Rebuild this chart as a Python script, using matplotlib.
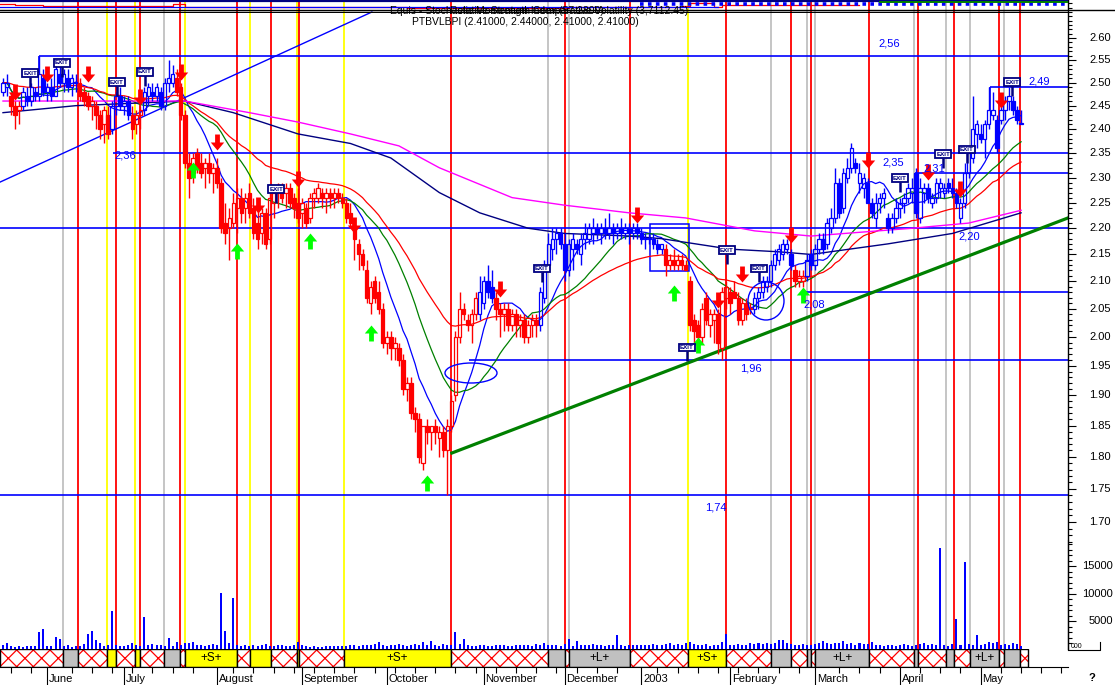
import numpy as np
import pandas as pd
import matplotlib
matplotlib.use("Agg")
import matplotlib.pyplot as plt
from matplotlib.patches import Rectangle, Ellipse
from matplotlib.path import Path
from matplotlib.ticker import FixedLocator, NullFormatter
import matplotlib.transforms as mtransforms

plt.rcParams['font.family'] = ['Liberation Sans', 'DejaVu Sans']
plt.rcParams['hatch.linewidth'] = 0.9
plt.rcParams['hatch.color'] = '#ff0000'

# ------------------------------------------------------------------ data
open_ = [2.48,2.49,2.47,2.45,2.44,2.45,2.47,2.46,2.48,2.47,
         2.51,2.48,2.49,2.47,2.52,2.50,2.51,2.49,2.50,2.50,
         2.48,2.47,2.45,2.45,2.43,2.41,2.43,2.40,2.45,2.47,
         2.45,2.46,2.43,2.41,2.43,2.44,2.47,2.48,2.47,2.48,
         2.45,2.50,2.50,2.51,2.49,2.43,2.33,2.31,2.35,2.33,
         2.32,2.33,2.31,2.32,2.29,2.21,2.20,2.21,2.24,2.26,
         2.24,2.27,2.24,2.21,2.19,2.23,2.18,2.25,2.27,2.28,
         2.27,2.28,2.26,2.25,2.23,2.24,2.22,2.26,2.26,2.27,
         2.26,2.27,2.26,2.27,2.26,2.25,2.23,2.20,2.17,2.15,
         2.12,2.06,2.10,2.08,2.05,1.99,2.00,1.98,1.98,1.96,
         1.91,1.92,1.87,1.86,1.79,1.85,1.84,1.85,1.83,1.84,
         1.81,1.85,1.90,2.00,2.05,2.03,2.02,2.04,2.04,2.06,
         2.10,2.09,2.07,2.05,2.04,2.05,2.02,2.04,2.02,2.03,
         2.00,2.02,2.03,2.02,2.07,2.13,2.16,2.18,2.19,2.17,
         2.12,2.16,2.17,2.15,2.18,2.18,2.19,2.20,2.19,2.20,
         2.19,2.20,2.19,2.20,2.19,2.20,2.19,2.20,2.19,2.18,
         2.18,2.18,2.17,2.16,2.16,2.13,2.14,2.13,2.14,2.13,
         2.10,2.03,2.02,2.00,2.07,2.02,2.03,2.04,1.98,2.07,
         2.08,2.08,2.07,2.03,2.06,2.05,2.05,2.07,2.08,2.09,
         2.10,2.13,2.14,2.15,2.16,2.15,2.12,2.10,2.10,2.11,
         2.15,2.13,2.16,2.18,2.17,2.20,2.22,2.29,2.24,2.30,
         2.32,2.33,2.29,2.28,2.29,2.25,2.22,2.25,2.26,2.22,
         2.20,2.22,2.24,2.25,2.26,2.27,2.31,2.22,2.27,2.28,
         2.25,2.26,2.28,2.27,2.29,2.28,2.27,2.22,2.25,2.31,
         2.34,2.39,2.39,2.38,2.41,2.43,2.42,2.42,2.44,2.46,
         2.46,2.44,2.41]
high_ = [2.51,2.52,2.48,2.46,2.46,2.49,2.49,2.50,2.49,2.56,
         2.53,2.50,2.51,2.54,2.55,2.53,2.53,2.52,2.52,2.51,
         2.49,2.48,2.47,2.46,2.44,2.45,2.45,2.46,2.48,2.49,
         2.47,2.47,2.45,2.44,2.45,2.49,2.50,2.50,2.50,2.49,
         2.51,2.55,2.54,2.53,2.50,2.44,2.35,2.35,2.36,2.35,
         2.34,2.35,2.33,2.34,2.30,2.25,2.24,2.27,2.28,2.28,
         2.27,2.29,2.26,2.24,2.24,2.24,2.27,2.28,2.29,2.29,
         2.29,2.29,2.27,2.28,2.26,2.25,2.27,2.28,2.29,2.28,
         2.28,2.28,2.28,2.28,2.27,2.26,2.25,2.21,2.18,2.16,
         2.14,2.10,2.11,2.10,2.06,2.01,2.01,2.00,1.99,1.97,
         1.93,1.93,1.88,1.87,1.85,1.86,1.85,1.86,1.85,1.85,
         1.86,1.90,2.01,2.08,2.06,2.04,2.05,2.08,2.11,2.11,
         2.13,2.12,2.08,2.06,2.06,2.06,2.05,2.05,2.04,2.04,
         2.03,2.04,2.04,2.09,2.14,2.19,2.20,2.20,2.20,2.19,
         2.18,2.19,2.18,2.19,2.21,2.21,2.22,2.21,2.21,2.22,
         2.23,2.21,2.21,2.22,2.21,2.21,2.21,2.21,2.20,2.19,
         2.19,2.19,2.18,2.17,2.17,2.15,2.16,2.15,2.15,2.14,
         2.11,2.04,2.03,2.06,2.08,2.05,2.05,2.05,2.09,2.10,
         2.09,2.10,2.08,2.07,2.07,2.06,2.08,2.09,2.11,2.11,
         2.14,2.16,2.17,2.18,2.18,2.16,2.13,2.12,2.12,2.15,
         2.16,2.17,2.19,2.19,2.22,2.24,2.32,2.30,2.32,2.34,
         2.37,2.34,2.33,2.31,2.30,2.26,2.27,2.27,2.28,2.23,
         2.23,2.26,2.26,2.27,2.29,2.30,2.32,2.30,2.29,2.29,
         2.27,2.30,2.30,2.29,2.30,2.30,2.28,2.26,2.33,2.36,
         2.47,2.42,2.41,2.42,2.49,2.48,2.43,2.45,2.47,2.49,
         2.47,2.45,2.44]
low_ = [2.47,2.47,2.43,2.40,2.41,2.44,2.45,2.45,2.46,2.46,
        2.47,2.46,2.46,2.47,2.49,2.48,2.48,2.47,2.48,2.46,
        2.45,2.44,2.42,2.40,2.38,2.37,2.38,2.39,2.43,2.44,
        2.43,2.42,2.38,2.39,2.40,2.43,2.45,2.46,2.46,2.44,
        2.44,2.48,2.49,2.47,2.42,2.32,2.26,2.29,2.31,2.30,
        2.28,2.29,2.27,2.28,2.19,2.17,2.14,2.20,2.19,2.21,
        2.21,2.22,2.18,2.16,2.17,2.16,2.17,2.22,2.24,2.25,
        2.24,2.24,2.22,2.21,2.20,2.20,2.21,2.24,2.25,2.24,
        2.23,2.24,2.24,2.25,2.24,2.21,2.20,2.14,2.12,2.12,
        2.06,2.04,2.06,2.04,1.98,1.97,1.96,1.96,1.95,1.90,
        1.89,1.86,1.84,1.79,1.78,1.82,1.81,1.82,1.80,1.80,
        1.74,1.84,1.89,1.99,2.03,2.01,1.99,2.03,2.03,2.05,
        2.07,2.06,2.03,2.00,2.01,2.01,2.01,2.00,2.00,1.99,
        1.99,2.00,2.00,2.01,2.06,2.12,2.14,2.15,2.16,2.10,
        2.11,2.12,2.15,2.13,2.16,2.17,2.17,2.18,2.17,2.18,
        2.18,2.17,2.18,2.18,2.18,2.17,2.18,2.18,2.17,2.16,
        2.17,2.16,2.15,2.15,2.11,2.12,2.12,2.12,2.12,2.12,
        2.01,1.99,1.98,1.99,2.02,2.00,1.99,1.97,1.96,2.05,
        2.04,2.07,2.02,2.02,2.03,2.04,2.04,2.05,2.07,2.08,
        2.09,2.12,2.13,2.14,2.15,2.12,2.09,2.09,2.09,2.10,
        2.12,2.12,2.15,2.15,2.16,2.19,2.21,2.22,2.23,2.29,
        2.31,2.31,2.27,2.26,2.25,2.22,2.20,2.23,2.24,2.19,
        2.19,2.21,2.22,2.23,2.25,2.25,2.22,2.21,2.25,2.25,
        2.24,2.25,2.26,2.26,2.27,2.26,2.24,2.21,2.24,2.30,
        2.33,2.36,2.37,2.34,2.40,2.42,2.35,2.41,2.42,2.44,
        2.43,2.41,2.41]
close_ = [2.50,2.50,2.45,2.43,2.45,2.48,2.46,2.49,2.47,2.52,
          2.48,2.49,2.47,2.53,2.50,2.52,2.49,2.51,2.50,2.47,
          2.46,2.45,2.46,2.43,2.40,2.44,2.39,2.45,2.47,2.45,
          2.46,2.43,2.40,2.43,2.44,2.48,2.49,2.47,2.49,2.45,
          2.50,2.51,2.52,2.48,2.43,2.33,2.30,2.34,2.32,2.31,
          2.33,2.31,2.32,2.29,2.20,2.19,2.22,2.25,2.26,2.23,
          2.26,2.23,2.19,2.18,2.23,2.17,2.26,2.27,2.28,2.26,
          2.28,2.25,2.24,2.22,2.25,2.21,2.26,2.27,2.28,2.26,
          2.27,2.26,2.27,2.26,2.25,2.22,2.21,2.18,2.15,2.13,
          2.07,2.09,2.07,2.05,1.99,2.00,1.98,1.99,1.96,1.91,
          1.92,1.87,1.86,1.80,1.85,1.84,1.85,1.84,1.84,1.81,
          1.85,1.89,2.00,2.05,2.04,2.02,2.04,2.07,2.08,2.10,
          2.08,2.07,2.05,2.04,2.05,2.02,2.04,2.02,2.03,2.00,
          2.02,2.03,2.02,2.08,2.13,2.17,2.18,2.19,2.17,2.12,
          2.17,2.18,2.16,2.18,2.19,2.20,2.20,2.19,2.20,2.19,
          2.20,2.19,2.20,2.19,2.20,2.19,2.20,2.19,2.18,2.18,
          2.18,2.17,2.16,2.17,2.13,2.14,2.13,2.14,2.13,2.12,
          2.02,2.01,2.00,2.05,2.03,2.04,2.04,1.99,2.08,2.09,
          2.06,2.07,2.03,2.06,2.04,2.05,2.07,2.08,2.10,2.10,
          2.13,2.15,2.16,2.17,2.17,2.13,2.10,2.11,2.11,2.14,
          2.13,2.16,2.18,2.16,2.21,2.22,2.29,2.23,2.31,2.32,
          2.36,2.32,2.31,2.30,2.25,2.23,2.25,2.26,2.27,2.20,
          2.22,2.24,2.25,2.26,2.28,2.28,2.23,2.28,2.28,2.26,
          2.26,2.29,2.29,2.28,2.28,2.27,2.25,2.25,2.31,2.35,
          2.40,2.41,2.38,2.41,2.44,2.44,2.36,2.44,2.46,2.47,
          2.44,2.42,2.41]
volume = [670,1090,500,450,550,450,500,550,500,3150,
          3640,600,500,2240,1820,500,650,450,600,500,
          900,2730,3270,1640,1100,600,800,6900,700,600,
          500,650,1150,700,600,5900,800,900,750,700,
          550,2000,600,1200,800,1100,1000,1200,700,650,
          600,750,900,800,10250,3270,1100,9300,700,600,
          650,500,700,600,750,900,600,500,700,650,
          600,500,700,1200,700,500,450,500,400,450,
          500,550,600,500,550,600,650,700,600,800,
          700,650,900,1200,800,600,700,750,900,700,
          600,800,900,700,1300,800,1500,700,600,900,
          800,700,3000,900,1800,700,600,500,650,700,
          600,500,650,700,800,600,550,700,800,650,
          700,600,900,800,1000,700,650,800,600,900,
          1790,600,1430,800,700,650,900,700,800,600,
          700,650,2500,700,600,800,700,650,750,800,
          700,900,800,650,900,1000,800,900,750,1100,
          1190,900,800,700,900,600,700,800,1200,2680,
          800,700,900,700,800,1000,900,1000,900,1100,
          900,1000,1600,1600,1000,900,800,700,900,800,
          700,900,1000,1400,1100,900,1000,1100,1400,900,
          1000,800,1100,900,900,1300,700,800,600,700,
          800,600,700,900,800,600,700,900,1000,800,
          900,700,18400,800,600,900,5500,700,15800,900,
          700,2500,800,900,1200,1000,1250,700,900,800,
          1000,900,600]
# candle colour runs: (number of days, 'b' blue / 'r' red)
color_runs = [(2,'b'),(3,'r'),(14,'b'),(8,'r'),(5,'b'),(3,'r'),(8,'b'),(75,'r'),
              (4,'b'),(11,'r'),(31,'b'),(22,'r'),(10,'b'),(3,'r'),(54,'b')]

month_idx = [11, 30, 53, 74, 95, 119, 139, 158, 180, 201, 222, 242]
month_names = ['June', 'July', 'August', 'September', 'October', 'November',
               'December', '2003', 'February', 'March', 'April', 'May']

red_lines = [18.6, 28.0, 33.9, 43.8, 57.9, 66.3, 73.3, 110.9, 139.1, 155.2, 179.0,
             195.0, 200.0, 214.4, 226.5, 235.4, 246.5, 251.7]
yellow_lines = [25.7, 32.7, 45.0, 61.1, 72.8, 84.4, 169.6]
gray_lines = [14.9, 39.9, 134.9, 140.1, 190.1, 199.0, 201.0, 225.5, 233.4, 239.4, 247.8]
band_end = 253.7

levels = [2.56, 2.49, 2.35, 2.31, 2.20, 2.08, 1.96, 1.74]
level_start = [8.9, 244.3, 27.2, 225.7, -0.74, 198.5, 115.3, -0.74]
stub_i = [8.9, 244.3, 225.7]
stub_top = [2.56, 2.49, 2.31]
stub_bot = [2.521, 2.44, 2.29]

navy_i = [0, 18, 45, 57, 73, 86, 96, 108, 118, 130, 139, 155, 163, 180, 192, 200, 219, 235, 252]
navy_v = [2.435, 2.45, 2.46, 2.435, 2.39, 2.37, 2.34, 2.27, 2.23, 2.20, 2.19, 2.185, 2.18,
          2.16, 2.155, 2.15, 2.17, 2.19, 2.23]
mag_i = [0, 45, 61, 73, 86, 98, 108, 126, 139, 155, 169, 186, 200, 225, 239, 252]
mag_v = [2.46, 2.46, 2.435, 2.415, 2.39, 2.365, 2.32, 2.26, 2.245, 2.23, 2.22, 2.195,
         2.185, 2.20, 2.21, 2.235]

down_i = [3, 11, 21, 34, 44, 53, 63, 73, 87, 123, 157, 177, 183, 195, 214, 229, 237, 247]
down_p = [2.480, 2.519, 2.519, 2.469, 2.524, 2.373, 2.245, 2.297, 2.206, 2.086, 2.226,
          2.066, 2.113, 2.187, 2.336, 2.311, 2.277, 2.462]
up_i = [47, 58, 76, 91, 105, 166, 172, 198]
up_p = [2.316, 2.156, 2.176, 2.007, 1.759, 2.078, 1.986, 2.075]

exit_i = [6.7, 14.6, 28.2, 35.1, 67.6, 133.4, 169.3, 179.2, 187.1, 222.0, 232.7, 238.6, 249.8]
exit_p = [2.521, 2.544, 2.501, 2.524, 2.277, 2.124, 1.981, 2.158, 2.124, 2.299, 2.348,
          2.358, 2.501]

blue_trend_i = [-0.74, 91.3]
blue_trend_p = [2.291, 2.66]
green_trend_i = [111.1, 263.6]
green_trend_p = [1.806, 2.220]
box_i = [160.1, 169.8]
box_p = [2.119, 2.208]

price_ticks = [1.70, 1.75, 1.80, 1.85, 1.90, 1.95, 2.00, 2.05, 2.10, 2.15, 2.20, 2.25,
               2.30, 2.35, 2.40, 2.45, 2.50, 2.55, 2.60]
vol_ticks = [5000, 10000, 15000]

hdr_red_i = [-0.7, 3, 10, 38, 42, 45, 60, 100, 140, 168, 170, 176, 178, 212]
hdr_red_v = [4, 4.5, 5.5, 5.5, 4, 6.5, 7, 7.5, 6.5, 6, 3, 7, 4.5, 4.5]

# ------------------------------------------------------------------ layout
W, H = 1115, 685
X0, X1 = -0.7426, 263.61
fig = plt.figure(figsize=(W / 100, H / 100), dpi=100)
fig.patch.set_facecolor('white')

BLUE, RED, NAVY, GREEN = '#0000ff', '#ff0000', '#000080', '#008000'

ax = fig.add_axes([0, 36 / H, 1068 / W, 649 / H], zorder=1)
ax.set_yscale('log')
ax.set_xlim(X0, X1)
ax.set_ylim(1.5205, 2.6882)
for s in ['left', 'top', 'bottom']:
    ax.spines[s].set_visible(False)
ax.spines['right'].set_linewidth(1.0)
ax.set_xticks([])
ax.yaxis.set_major_locator(FixedLocator(price_ticks))
minor = [round(v, 2) for v in np.arange(1.67, 2.685, 0.01)
         if min(abs(v - t) for t in price_ticks) > 0.004]
ax.yaxis.set_minor_locator(FixedLocator(minor))
ax.yaxis.set_major_formatter(NullFormatter())
ax.yaxis.set_minor_formatter(NullFormatter())
ax.tick_params(axis='y', which='major', left=False, right=True, length=6, width=0.8)
ax.tick_params(axis='y', which='minor', left=False, right=True, length=3, width=0.8)

trans_p = mtransforms.blended_transform_factory(fig.transFigure, ax.transData)
for t in price_ticks:
    ax.text(1111 / W, t, f'{t:.2f}', transform=trans_p, ha='right', va='center',
            fontsize=8, clip_on=False)

# vertical event lines
for v in gray_lines:
    ax.axvline(v, color='#c0c0c0', lw=1.3, zorder=1)
for v in yellow_lines:
    ax.axvline(v, color='#ffff00', lw=1.3, zorder=1)
for v in red_lines:
    ax.axvline(v, color=RED, lw=1.3, zorder=1)

# horizontal levels
for lv, st in zip(levels, level_start):
    ax.hlines(lv, st, X1, color=BLUE, lw=1.2, zorder=2)
ax.vlines(stub_i, stub_bot, stub_top, color=BLUE, lw=1.2, zorder=2)
ax.plot(blue_trend_i, blue_trend_p, color=BLUE, lw=1.0, zorder=2)
ax.plot(green_trend_i, green_trend_p, color=GREEN, lw=2.3, zorder=2)
ax.add_patch(Rectangle((box_i[0], box_p[0]), box_i[1] - box_i[0], box_p[1] - box_p[0],
                       fill=False, ec=BLUE, lw=1.1, zorder=2))

# moving averages
idx = np.arange(len(close_))
cs = pd.Series(close_)
ax.plot(idx, cs.rolling(10, min_periods=1).mean(), color=BLUE, lw=0.9, zorder=3)
ax.plot(idx, cs.rolling(20, min_periods=1).mean(), color=GREEN, lw=0.9, zorder=3)
ax.plot(idx, cs.ewm(span=40, adjust=False).mean(), color=RED, lw=0.9, zorder=3)
ax.plot(navy_i, navy_v, color=NAVY, lw=1.0, zorder=3)
ax.plot(mag_i, mag_v, color='#ff00ff', lw=1.0, zorder=3)

# candles
o = np.array(open_); h = np.array(high_); l = np.array(low_); c = np.array(close_)
ckeys = []
for k, col in color_runs:
    ckeys += [col] * k
cols = [BLUE if k == 'b' else RED for k in ckeys]
blo = np.minimum(o, c); bhi = np.maximum(o, c)
ax.vlines(idx, l, blo, colors=cols, lw=1.0, zorder=4)
ax.vlines(idx, bhi, h, colors=cols, lw=1.0, zorder=4)
faces = [cols[i] if c[i] < o[i] else 'none' for i in range(len(c))]
ax.bar(idx, np.maximum(bhi - blo, 0.002), bottom=blo, width=0.85,
       facecolor=faces, edgecolor=cols, linewidth=0.9, zorder=5)

# arrows
dv = [(-0.15, 0.5), (0.15, 0.5), (0.15, 0.0), (0.42, 0.0), (0, -0.5), (-0.42, 0.0),
      (-0.15, 0.0), (-0.15, 0.5)]
codes = [Path.MOVETO] + [Path.LINETO] * 6 + [Path.CLOSEPOLY]
down_path = Path(dv, codes)
up_path = Path([(x, -y) for x, y in dv], codes)
ax.plot(down_i, down_p, ls='none', marker=down_path, markersize=11.5, color=RED,
        mew=0, zorder=6)
ax.plot(up_i, up_p, ls='none', marker=up_path, markersize=11.5, color='#00ff00',
        mew=0, zorder=6)

# EXIT markers
ax.vlines(exit_i, np.array(exit_p) * 0.988, np.array(exit_p) * 0.997, color=NAVY,
          lw=1.8, zorder=6)
for xi, pi in zip(exit_i, exit_p):
    ax.text(xi, pi, 'EXIT', fontsize=4.5, color=NAVY, ha='center', va='center',
            fontweight='bold', zorder=7,
            bbox=dict(boxstyle='square,pad=0.2', fc='white', ec=NAVY, lw=1.3))

# ------------------------------------------------------------------ volume
vol = fig.add_axes([0, 36 / H, 1068 / W, 109 / H], zorder=2)
vol.patch.set_visible(False)
vol.set_xlim(X0, X1)
vol.set_ylim(0, 19818)
for s in ['left', 'top', 'bottom']:
    vol.spines[s].set_visible(False)
vol.set_xticks([])
vol.bar(idx, volume, width=0.5, color=BLUE, linewidth=0)
vol.yaxis.set_major_locator(FixedLocator(vol_ticks))
vol.yaxis.set_minor_locator(FixedLocator([v for v in range(1000, 19001, 1000)
                                          if v % 5000]))
vol.yaxis.set_major_formatter(NullFormatter())
vol.tick_params(axis='y', which='major', left=False, right=True, length=6, width=0.8)
vol.tick_params(axis='y', which='minor', left=False, right=True, length=3, width=0.8)
trans_v = mtransforms.blended_transform_factory(fig.transFigure, vol.transData)
for t in vol_ticks:
    vol.text(1113 / W, t, str(t), transform=trans_v, ha='right', va='center',
             fontsize=8, clip_on=False)

# ------------------------------------------------------------------ band
bax = fig.add_axes([0, 18 / H, 1068 / W, 18 / H], zorder=2)
bax.set_xlim(X0, X1)
bax.set_ylim(0, 1)
bax.patch.set_visible(False)
for s in ['left', 'top', 'right']:
    bax.spines[s].set_visible(False)
bax.set_yticks([])
events = sorted([(v, 'g') for v in gray_lines] + [(v, 'r') for v in red_lines] +
                [(v, 'y') for v in yellow_lines])
bounds = [X0] + [e[0] for e in events] + [band_end]
kinds = ['r'] + [e[1] for e in events]
for k, kind in enumerate(kinds):
    a, b = bounds[k], bounds[k + 1]
    if kind == 'r':
        bax.add_patch(Rectangle((a, 0), b - a, 1, facecolor='white', edgecolor=RED,
                                hatch='xx', lw=0))
    elif kind == 'y':
        bax.add_patch(Rectangle((a, 0), b - a, 1, facecolor='#ffff00', lw=0))
    else:
        bax.add_patch(Rectangle((a, 0), b - a, 1, facecolor='#c0c0c0', lw=0))
    bax.add_patch(Rectangle((a, 0), b - a, 1, fill=False, edgecolor='black', lw=1.0))
    if kind != 'r' and b - a > 6:
        bax.text((a + b) / 2, 0.5, '+S+' if kind == 'y' else '+L+', ha='center',
                 va='center', fontsize=8.5)
bax.set_xticks(month_idx)
bax.set_xticklabels([])
weeks = [w for w in range(2, 264, 5) if min(abs(w - m) for m in month_idx) > 1]
bax.xaxis.set_minor_locator(FixedLocator(weeks))
bax.tick_params(axis='x', which='major', length=13, width=0.8, direction='out')
bax.tick_params(axis='x', which='minor', length=4, width=0.8, direction='out')
trans_b = mtransforms.blended_transform_factory(bax.transData, bax.transAxes)
for m, name in zip(month_idx, month_names):
    bax.text(m + 0.4, -0.67, name, transform=trans_b, ha='left', va='center',
             fontsize=8, clip_on=False)

# ------------------------------------------------------------------ header strip
hx = fig.add_axes([0, 1 - 12.5 / H, 1068 / W, 12.5 / H], zorder=3)
hx.set_xlim(X0, X1)
hx.set_ylim(12.5, 0)
hx.axis('off')
hx.plot([X0, X1], [0.8, 0.8], color=NAVY, lw=1.6)
hx.step(hdr_red_i, hdr_red_v, where='post', color=RED, lw=0.9)
hx.plot([X0, 177], [7.3, 7.3], color=BLUE, lw=0.9)
hx.plot([157.7, X1], [4, 4], color=BLUE, lw=2.6, ls=(0, (1, 1.2)))
hx.plot([217, X1], [1.6, 1.6], color=GREEN, lw=1.4)
hx.plot([X0, X1], [12.2, 12.2], color='black', lw=1.0)

# ------------------------------------------------------------------ overlay (annotations)
ov = fig.add_axes([0, 0, 1, 1], zorder=10)
ov.set_xlim(0, W)
ov.set_ylim(H, 0)
ov.axis('off')
ov.plot([0, W], [10, 10], color='black', lw=1.0)
ov.add_patch(Ellipse((471, 373), 52, 20, fill=False, ec=BLUE, lw=1.0))
ov.add_patch(Ellipse((766, 301), 36, 38, fill=False, ec=BLUE, lw=1.0))
for txt, x, y in [('2,56', 878, 43), ('2,49', 1028, 81), ('2,36', 114, 155),
                  ('2,35', 882, 162), ('2,31', 923, 168), ('2,20', 958, 236),
                  ('2,08', 803, 304), ('1,96', 740, 368), ('1,74', 705, 508)]:
    ov.text(x, y, txt, color=BLUE, fontsize=8, ha='left', va='center')
# the reference shows these two indicator captions printed on top of each other
ov.text(390, 11, 'Equis - Stochastic Momentum Index (57.2800)', fontsize=7.5,
        ha='left', va='center')
ov.text(450, 11, 'Relative Strength Comparative Volatility (3,7112.45)', fontsize=7.5,
        ha='left', va='center')
ov.text(412, 22, 'PTBVLBPI (2.41000, 2.44000, 2.41000, 2.41000)', fontsize=7.5,
        ha='left', va='center')
ov.text(1071, 646, '000', fontsize=5, ha='left', va='center')
ov.plot([1068, 1100, 1100], [650, 650, 642], color='black', lw=0.8)
ov.text(1092, 678, '?', fontsize=8, fontweight='bold', ha='center', va='center')

fig.savefig('out.png', dpi=100, facecolor='white')
